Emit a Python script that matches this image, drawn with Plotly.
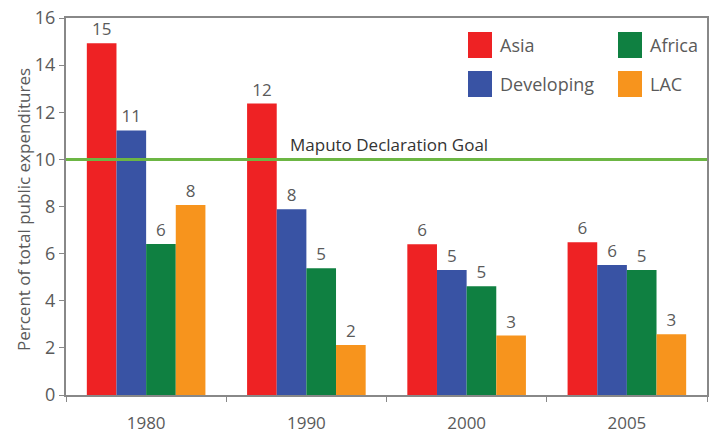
import plotly.graph_objects as go

years = ["1980", "1990", "2000", "2005"]
asia = [14.93, 12.37, 6.40, 6.48]
developing = [11.23, 7.88, 5.30, 5.52]
africa = [6.41, 5.38, 4.62, 5.30]
lac = [8.06, 2.12, 2.52, 2.58]
series_names = ["Asia", "Developing", "Africa", "LAC"]
series_colors = ["#EE2224", "#3953A4", "#0F8041", "#F7941D"]
goal_value = 10
goal_label = "Maputo Declaration Goal"
y_title = "Percent of total public expenditures"

FONT = "Open Sans"
GRAY = "#5a5a5a"

fig = go.Figure()
for name, vals, col in zip(series_names, [asia, developing, africa, lac], series_colors):
    fig.add_trace(go.Bar(
        x=years, y=vals, name=name, marker_color=col, marker_line_width=0,
        texttemplate="%{y:.0f}", textposition="outside",
        textfont=dict(family=FONT, size=17, color=GRAY),
        cliponaxis=False, showlegend=False,
    ))

# goal line
fig.add_hline(y=goal_value, line_color="#6CB644", line_width=3)
fig.add_annotation(
    x=(288 - 66) / 641, xref="paper", y=goal_value, yref="y", text=goal_label,
    showarrow=False, xanchor="left", yanchor="bottom", yshift=1,
    font=dict(family=FONT, size=17, color="#333333"),
)

# legend (2 x 2 grid) built from series lists
W, H = 641.0, 377.0
L, T = 66.0, 18.0
legend_pos = [(468, 32), (468, 71), (618, 32), (618, 71)]
for (px, py), name, col in zip(legend_pos, series_names, series_colors):
    fig.add_shape(type="rect", xref="paper", yref="paper",
                  x0=(px - L) / W, x1=(px + 24 - L) / W,
                  y0=1 - (py - T) / H, y1=1 - (py + 26 - T) / H,
                  fillcolor=col, line_width=0)
    fig.add_annotation(x=(px + 30 - L) / W, xref="paper",
                       y=1 - (py + 13 - T) / H, yref="paper",
                       text=name, showarrow=False, xanchor="left", yanchor="middle",
                       font=dict(family=FONT, size=18, color=GRAY))

# y-axis title
fig.add_annotation(x=(23 - L) / W, xref="paper", y=1 - (210 - T) / H, yref="paper",
                   text=y_title, textangle=-90, showarrow=False,
                   xanchor="center", yanchor="middle",
                   font=dict(family=FONT, size=17, color=GRAY))

fig.update_layout(
    width=710, height=436,
    margin=dict(l=66, r=3, t=18, b=41),
    paper_bgcolor="white", plot_bgcolor="white",
    barmode="group", bargap=0.26, bargroupgap=0,
    font=dict(family=FONT, color=GRAY),
)
fig.update_xaxes(
    type="category", showline=True, linecolor="#888888", linewidth=2, mirror=True,
    ticks="outside", tickson="boundaries", ticklen=5, tickcolor="#888888",
    tickfont=dict(family=FONT, size=17, color=GRAY), showgrid=False,
    automargin=False, ticklabelstandoff=12,
)
fig.update_yaxes(
    range=[0, 16], dtick=2, showline=True, linecolor="#888888", linewidth=2, mirror=True,
    ticks="outside", ticklen=5, tickcolor="#888888", showgrid=False, zeroline=False,
    tickfont=dict(family=FONT, size=18, color=GRAY), automargin=False,
    ticklabeloverflow="allow",
)

fig.write_html("out.html", config={"displayModeBar": False},
               post_script="document.body.style.margin='0';")
